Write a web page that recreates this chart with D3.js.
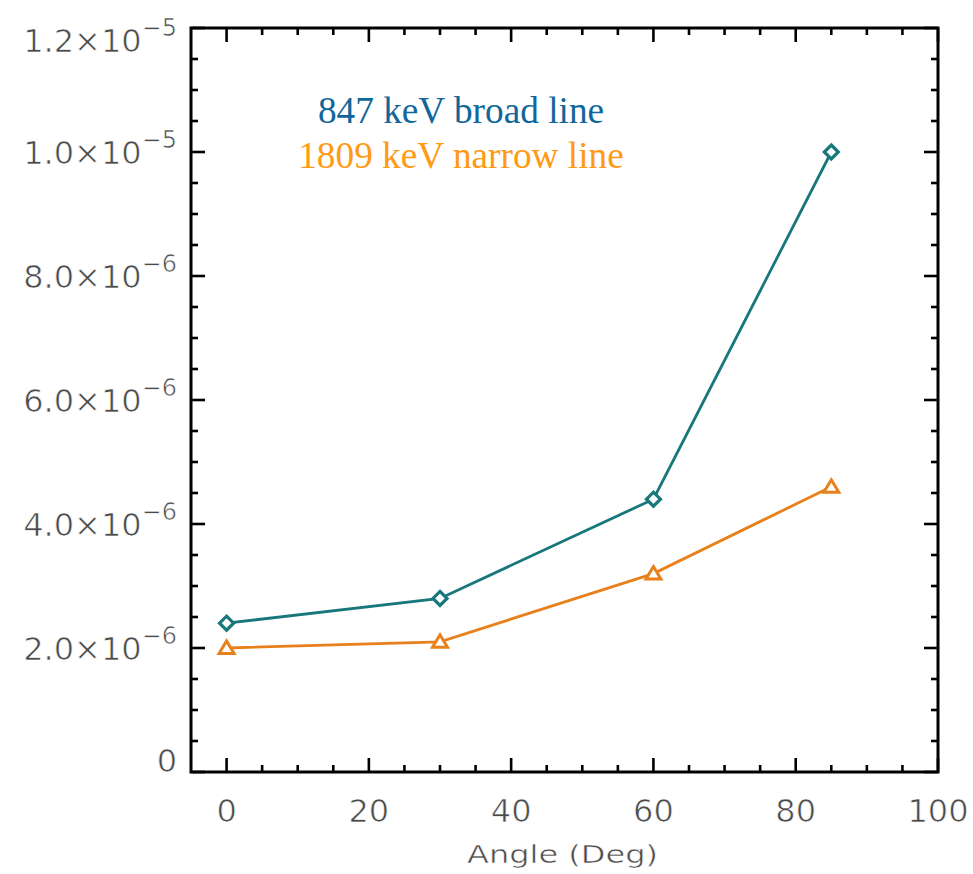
<!DOCTYPE html>
<html>
<head>
<meta charset="utf-8">
<script src="https://cdn.jsdelivr.net/npm/d3@7"></script>
<style>
  html, body { margin: 0; padding: 0; background: #fff; }
  svg { display: block; }
</style>
</head>
<body>
<script>
// ---- data ----
const angles = [0, 30, 60, 85];
const broadValues = [2.4e-6, 2.8e-6, 4.4e-6, 1.0e-5];   // 847 keV broad line
const narrowValues = [2.0e-6, 2.1e-6, 3.2e-6, 4.6e-6];  // 1809 keV narrow line
const seriesNames = ["847 keV broad line", "1809 keV narrow line"];
const xTicks = [0, 20, 40, 60, 80, 100];
const yTicks = [0, 2e-6, 4e-6, 6e-6, 8e-6, 1e-5, 1.2e-5];
const yTickMantissa = ["0", "2.0", "4.0", "6.0", "8.0", "1.0", "1.2"];
const yTickExponent = ["", "−6", "−6", "−6", "−6", "−5", "−5"];
const xLabel = "Angle (Deg)";

// ---- layout ----
const W = 973, H = 874;
const margin = {left: 191, top: 28, right: 35, bottom: 102};
const iw = W - margin.left - margin.right;
const ih = H - margin.top - margin.bottom;

const svg = d3.select("body").append("svg").attr("width", W).attr("height", H);
const g = svg.append("g").attr("transform", `translate(${margin.left},${margin.top})`);

const x = d3.scaleLinear().domain([-5, 100]).range([0, iw]);
const y = d3.scaleLinear().domain([0, 1.2e-5]).range([ih, 0]);

const tickFont = "'DejaVu Sans', sans-serif";
const textColor = "#4a4a4a";

// minor/major ticks
const xMinor = d3.range(0, 100.001, 5).filter(v => v % 20 !== 0);
const yMinor = d3.range(0, 24).map(i => i * 5e-7).filter((v, i) => i % 4 !== 0);

const tickG = g.append("g").attr("stroke", "#000").attr("stroke-width", 2.6);
function xt(vals, len) {
  vals.forEach(v => {
    tickG.append("line").attr("x1", x(v)).attr("x2", x(v)).attr("y1", ih).attr("y2", ih - len);
    tickG.append("line").attr("x1", x(v)).attr("x2", x(v)).attr("y1", 0).attr("y2", len);
  });
}
function yt(vals, len) {
  vals.forEach(v => {
    tickG.append("line").attr("y1", y(v)).attr("y2", y(v)).attr("x1", 0).attr("x2", len);
    tickG.append("line").attr("y1", y(v)).attr("y2", y(v)).attr("x1", iw).attr("x2", iw - len);
  });
}
xt(xTicks, 14); xt(xMinor, 7);
yt(yTicks, 14); yt(yMinor, 7);

// frame
g.append("rect").attr("x", 0).attr("y", 0).attr("width", iw).attr("height", ih)
  .attr("fill", "none").attr("stroke", "#000").attr("stroke-width", 3);

// thin the glyphs a little with a white outline
function thin(sel) {
  return sel.attr("stroke", "#fff").attr("stroke-width", 0.7);
}

// x tick labels
thin(g.append("g").selectAll("text").data(xTicks).join("text")
  .attr("x", d => x(d)).attr("y", ih + 50)
  .attr("text-anchor", "middle")
  .attr("font-family", tickFont).attr("font-size", 32).attr("fill", textColor)
  .text(d => d));

// y tick labels
const yl = g.append("g");
yTicks.forEach((v, i) => {
  const cy = Math.max(12, Math.min(ih - 12, y(v)));
  const t = thin(yl.append("text")
    .attr("x", -14).attr("y", cy + 12)
    .attr("text-anchor", "end")
    .attr("font-family", tickFont).attr("font-size", 32).attr("fill", textColor));
  t.append("tspan").text(i === 0 ? yTickMantissa[i] : yTickMantissa[i] + "×10");
  if (yTickExponent[i]) {
    t.append("tspan").attr("dy", -16).attr("font-size", 24).text(yTickExponent[i]);
  }
});

// x axis title
thin(g.append("text")
  .attr("x", iw / 2 - 2).attr("y", ih + 91)
  .attr("text-anchor", "middle")
  .attr("font-family", tickFont).attr("font-size", 25).attr("fill", textColor)
  .attr("textLength", 191).attr("lengthAdjust", "spacingAndGlyphs")
  .text(xLabel)).attr("stroke-width", 0.5);

// series
const teal = "#17777a", orange = "#e8801c";
const line = d3.line().x(d => x(d[0])).y(d => y(d[1]));
const broad = angles.map((a, i) => [a, broadValues[i]]);
const narrow = angles.map((a, i) => [a, narrowValues[i]]);

g.append("path").datum(broad).attr("d", line).attr("fill", "none")
  .attr("stroke", teal).attr("stroke-width", 2.8);
g.append("path").datum(narrow).attr("d", line).attr("fill", "none")
  .attr("stroke", orange).attr("stroke-width", 2.8);

// diamonds
g.append("g").selectAll("path").data(broad).join("path")
  .attr("transform", d => `translate(${x(d[0])},${y(d[1])})`)
  .attr("d", "M0,-7L7,0L0,7L-7,0Z")
  .attr("fill", "#fff").attr("stroke", teal).attr("stroke-width", 3.2);

// triangles
g.append("g").selectAll("path").data(narrow).join("path")
  .attr("transform", d => `translate(${x(d[0])},${y(d[1])})`)
  .attr("d", "M0,-7L7.5,5.5L-7.5,5.5Z")
  .attr("fill", "#fff").attr("stroke", orange).attr("stroke-width", 3)
  .attr("stroke-linejoin", "miter");

// legend text
const legendColors = ["#11679a", "#ff9a12"];
seriesNames.forEach((name, i) => {
  svg.append("text")
    .attr("x", 461).attr("y", 123 + i * 45)
    .attr("text-anchor", "middle")
    .attr("font-family", "'Liberation Serif', 'Times New Roman', serif")
    .attr("font-size", 37.3).attr("fill", legendColors[i])
    .text(name);
});
</script>
</body>
</html>
